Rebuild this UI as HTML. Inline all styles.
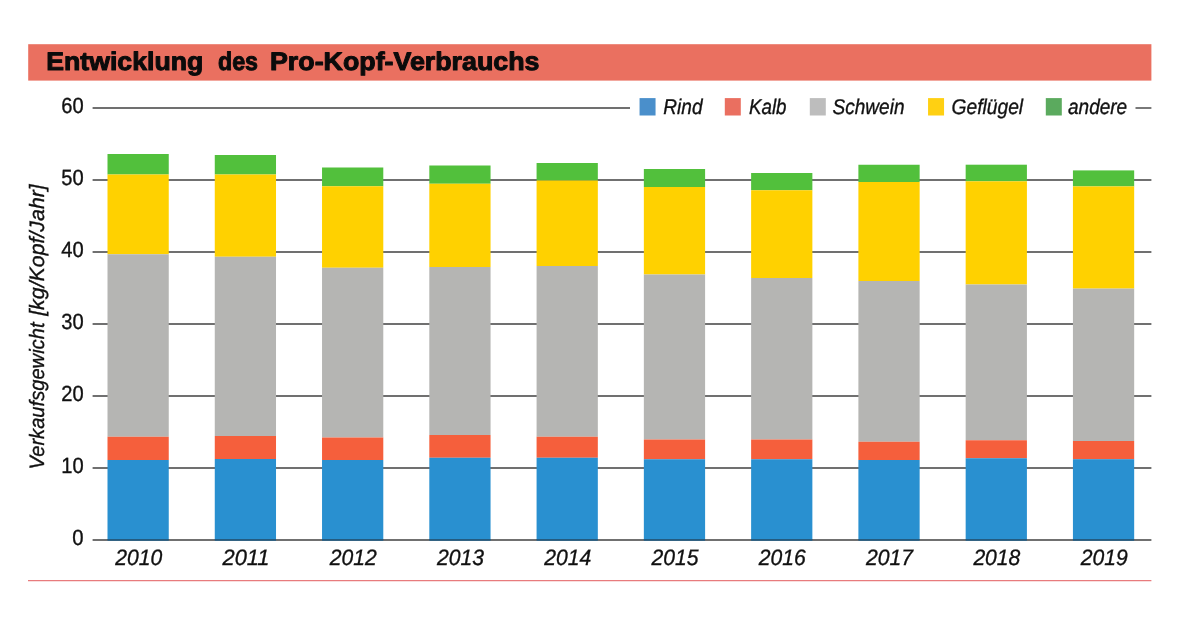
<!DOCTYPE html>
<html lang="de"><head><meta charset="utf-8"><title>Entwicklung des Pro-Kopf-Verbrauchs</title>
<style>html,body{margin:0;padding:0;background:#fff;}svg{display:block;}text{font-family:"Liberation Sans",sans-serif;fill:#111;text-rendering:geometricPrecision;}.it{font-style:italic;}.sm,.it{stroke:#111;stroke-width:0.35;}</style></head><body>
<svg width="1199" height="628" viewBox="0 0 1199 628">
<rect x="0" y="0" width="1199" height="628" fill="#ffffff"/>
<rect x="28.2" y="44.2" width="1123.2" height="36.4" fill="#EA7060"/>
<text y="70" font-size="25.5" font-weight="bold" fill="#0b0b0b" stroke="#0b0b0b" stroke-width="1.0" stroke-linejoin="round" style="fill:#0b0b0b"><tspan x="46.25" textLength="157" lengthAdjust="spacingAndGlyphs">Entwicklung</tspan> <tspan x="218" textLength="40" lengthAdjust="spacingAndGlyphs">des</tspan> <tspan x="270" textLength="269.5" lengthAdjust="spacingAndGlyphs">Pro-Kopf-Verbrauchs</tspan></text>
<g stroke="#404040" stroke-width="1.4">
<line x1="92.6" x2="630" y1="108.00" y2="108.00"/>
<line x1="1135.5" x2="1151.4" y1="108.00" y2="108.00"/>
<line x1="92.6" x2="1151.4" y1="180.00" y2="180.00"/>
<line x1="92.6" x2="1151.4" y1="252.00" y2="252.00"/>
<line x1="92.6" x2="1151.4" y1="324.00" y2="324.00"/>
<line x1="92.6" x2="1151.4" y1="396.00" y2="396.00"/>
<line x1="92.6" x2="1151.4" y1="468.00" y2="468.00"/>
</g>
<rect x="107.50" y="154.00" width="61.25" height="20.50" fill="#52C03C"/>
<rect x="107.50" y="174.50" width="61.25" height="79.75" fill="#FFD100"/>
<rect x="107.50" y="254.25" width="61.25" height="182.50" fill="#B5B5B3"/>
<rect x="107.50" y="436.75" width="61.25" height="23.25" fill="#F55F3C"/>
<rect x="107.50" y="460.00" width="61.25" height="80.00" fill="#2990D0"/>
<rect x="214.77" y="155.00" width="61.25" height="19.50" fill="#52C03C"/>
<rect x="214.77" y="174.50" width="61.25" height="82.25" fill="#FFD100"/>
<rect x="214.77" y="256.75" width="61.25" height="179.25" fill="#B5B5B3"/>
<rect x="214.77" y="436.00" width="61.25" height="23.00" fill="#F55F3C"/>
<rect x="214.77" y="459.00" width="61.25" height="81.00" fill="#2990D0"/>
<rect x="322.04" y="167.50" width="61.25" height="18.75" fill="#52C03C"/>
<rect x="322.04" y="186.25" width="61.25" height="81.50" fill="#FFD100"/>
<rect x="322.04" y="267.75" width="61.25" height="169.75" fill="#B5B5B3"/>
<rect x="322.04" y="437.50" width="61.25" height="22.50" fill="#F55F3C"/>
<rect x="322.04" y="460.00" width="61.25" height="80.00" fill="#2990D0"/>
<rect x="429.31" y="165.50" width="61.25" height="18.25" fill="#52C03C"/>
<rect x="429.31" y="183.75" width="61.25" height="83.25" fill="#FFD100"/>
<rect x="429.31" y="267.00" width="61.25" height="168.00" fill="#B5B5B3"/>
<rect x="429.31" y="435.00" width="61.25" height="22.75" fill="#F55F3C"/>
<rect x="429.31" y="457.75" width="61.25" height="82.25" fill="#2990D0"/>
<rect x="536.58" y="163.00" width="61.25" height="17.50" fill="#52C03C"/>
<rect x="536.58" y="180.50" width="61.25" height="85.50" fill="#FFD100"/>
<rect x="536.58" y="266.00" width="61.25" height="170.75" fill="#B5B5B3"/>
<rect x="536.58" y="436.75" width="61.25" height="21.00" fill="#F55F3C"/>
<rect x="536.58" y="457.75" width="61.25" height="82.25" fill="#2990D0"/>
<rect x="643.85" y="169.00" width="61.25" height="18.00" fill="#52C03C"/>
<rect x="643.85" y="187.00" width="61.25" height="87.50" fill="#FFD100"/>
<rect x="643.85" y="274.50" width="61.25" height="165.00" fill="#B5B5B3"/>
<rect x="643.85" y="439.50" width="61.25" height="19.75" fill="#F55F3C"/>
<rect x="643.85" y="459.25" width="61.25" height="80.75" fill="#2990D0"/>
<rect x="751.12" y="173.00" width="61.25" height="17.25" fill="#52C03C"/>
<rect x="751.12" y="190.25" width="61.25" height="87.75" fill="#FFD100"/>
<rect x="751.12" y="278.00" width="61.25" height="161.50" fill="#B5B5B3"/>
<rect x="751.12" y="439.50" width="61.25" height="19.75" fill="#F55F3C"/>
<rect x="751.12" y="459.25" width="61.25" height="80.75" fill="#2990D0"/>
<rect x="858.39" y="164.75" width="61.25" height="17.25" fill="#52C03C"/>
<rect x="858.39" y="182.00" width="61.25" height="99.00" fill="#FFD100"/>
<rect x="858.39" y="281.00" width="61.25" height="160.75" fill="#B5B5B3"/>
<rect x="858.39" y="441.75" width="61.25" height="18.25" fill="#F55F3C"/>
<rect x="858.39" y="460.00" width="61.25" height="80.00" fill="#2990D0"/>
<rect x="965.66" y="164.70" width="61.25" height="16.60" fill="#52C03C"/>
<rect x="965.66" y="181.30" width="61.25" height="103.20" fill="#FFD100"/>
<rect x="965.66" y="284.50" width="61.25" height="155.75" fill="#B5B5B3"/>
<rect x="965.66" y="440.25" width="61.25" height="18.00" fill="#F55F3C"/>
<rect x="965.66" y="458.25" width="61.25" height="81.75" fill="#2990D0"/>
<rect x="1072.93" y="170.40" width="61.25" height="16.00" fill="#52C03C"/>
<rect x="1072.93" y="186.40" width="61.25" height="102.20" fill="#FFD100"/>
<rect x="1072.93" y="288.60" width="61.25" height="152.40" fill="#B5B5B3"/>
<rect x="1072.93" y="441.00" width="61.25" height="18.20" fill="#F55F3C"/>
<rect x="1072.93" y="459.20" width="61.25" height="80.80" fill="#2990D0"/>
<line x1="92.6" x2="1151.4" y1="540.00" y2="540.00" stroke="#404040" stroke-width="1.5"/>
<rect x="107.50" y="539.3" width="61.25" height="1.4" fill="#1B5E8C"/>
<rect x="214.77" y="539.3" width="61.25" height="1.4" fill="#1B5E8C"/>
<rect x="322.04" y="539.3" width="61.25" height="1.4" fill="#1B5E8C"/>
<rect x="429.31" y="539.3" width="61.25" height="1.4" fill="#1B5E8C"/>
<rect x="536.58" y="539.3" width="61.25" height="1.4" fill="#1B5E8C"/>
<rect x="643.85" y="539.3" width="61.25" height="1.4" fill="#1B5E8C"/>
<rect x="751.12" y="539.3" width="61.25" height="1.4" fill="#1B5E8C"/>
<rect x="858.39" y="539.3" width="61.25" height="1.4" fill="#1B5E8C"/>
<rect x="965.66" y="539.3" width="61.25" height="1.4" fill="#1B5E8C"/>
<rect x="1072.93" y="539.3" width="61.25" height="1.4" fill="#1B5E8C"/>
<text class="sm" x="83.6" y="113.30" font-size="22" text-anchor="end" textLength="22.4" lengthAdjust="spacingAndGlyphs">60</text>
<text class="sm" x="83.6" y="185.30" font-size="22" text-anchor="end" textLength="22.4" lengthAdjust="spacingAndGlyphs">50</text>
<text class="sm" x="83.6" y="257.30" font-size="22" text-anchor="end" textLength="22.4" lengthAdjust="spacingAndGlyphs">40</text>
<text class="sm" x="83.6" y="329.30" font-size="22" text-anchor="end" textLength="22.4" lengthAdjust="spacingAndGlyphs">30</text>
<text class="sm" x="83.6" y="401.30" font-size="22" text-anchor="end" textLength="22.4" lengthAdjust="spacingAndGlyphs">20</text>
<text class="sm" x="83.6" y="473.30" font-size="22" text-anchor="end" textLength="22.4" lengthAdjust="spacingAndGlyphs">10</text>
<text class="sm" x="83.6" y="545.30" font-size="22" text-anchor="end" textLength="11.3" lengthAdjust="spacingAndGlyphs">0</text>
<text class="it sm" x="138.72" y="565.4" font-size="22.3" text-anchor="middle" textLength="47" lengthAdjust="spacingAndGlyphs">2010</text>
<text class="it sm" x="245.99" y="565.4" font-size="22.3" text-anchor="middle" textLength="47" lengthAdjust="spacingAndGlyphs">2011</text>
<text class="it sm" x="353.26" y="565.4" font-size="22.3" text-anchor="middle" textLength="47" lengthAdjust="spacingAndGlyphs">2012</text>
<text class="it sm" x="460.54" y="565.4" font-size="22.3" text-anchor="middle" textLength="47" lengthAdjust="spacingAndGlyphs">2013</text>
<text class="it sm" x="567.80" y="565.4" font-size="22.3" text-anchor="middle" textLength="47" lengthAdjust="spacingAndGlyphs">2014</text>
<text class="it sm" x="675.08" y="565.4" font-size="22.3" text-anchor="middle" textLength="47" lengthAdjust="spacingAndGlyphs">2015</text>
<text class="it sm" x="782.35" y="565.4" font-size="22.3" text-anchor="middle" textLength="47" lengthAdjust="spacingAndGlyphs">2016</text>
<text class="it sm" x="889.62" y="565.4" font-size="22.3" text-anchor="middle" textLength="47" lengthAdjust="spacingAndGlyphs">2017</text>
<text class="it sm" x="996.88" y="565.4" font-size="22.3" text-anchor="middle" textLength="47" lengthAdjust="spacingAndGlyphs">2018</text>
<text class="it sm" x="1104.15" y="565.4" font-size="22.3" text-anchor="middle" textLength="47" lengthAdjust="spacingAndGlyphs">2019</text>
<g transform="translate(44.3 469.5) rotate(-90)"><text class="it" x="0" y="0" font-size="20.8" textLength="147" lengthAdjust="spacingAndGlyphs">Verkaufsgewicht</text><text class="it" x="153.7" y="0" font-size="20.8" textLength="131.6" lengthAdjust="spacingAndGlyphs">[kg/Kopf/Jahr]</text></g>
<rect x="639.55" y="98.1" width="16" height="17.4" fill="#4A8FCB"/>
<text class="it" x="663.25" y="114.1" font-size="21.3" textLength="39.25" lengthAdjust="spacingAndGlyphs">Rind</text>
<rect x="724.80" y="98.1" width="16" height="17.4" fill="#EA6F60"/>
<text class="it" x="749.00" y="114.1" font-size="21.3" textLength="37.50" lengthAdjust="spacingAndGlyphs">Kalb</text>
<rect x="809.80" y="98.1" width="16" height="17.4" fill="#BDBDBD"/>
<text class="it" x="832.50" y="114.1" font-size="21.3" textLength="72.00" lengthAdjust="spacingAndGlyphs">Schwein</text>
<rect x="928.05" y="98.1" width="16" height="17.4" fill="#FFD012"/>
<text class="it" x="951.50" y="114.1" font-size="21.3" textLength="71.60" lengthAdjust="spacingAndGlyphs">Geflügel</text>
<rect x="1045.80" y="98.1" width="16" height="17.4" fill="#5BAA5E"/>
<text class="it" x="1068.00" y="114.1" font-size="21.3" textLength="59.20" lengthAdjust="spacingAndGlyphs">andere</text>
<line x1="28" x2="1151.4" y1="580.6" y2="580.6" stroke="#E87B7D" stroke-width="1.2"/>
</svg></body></html>
